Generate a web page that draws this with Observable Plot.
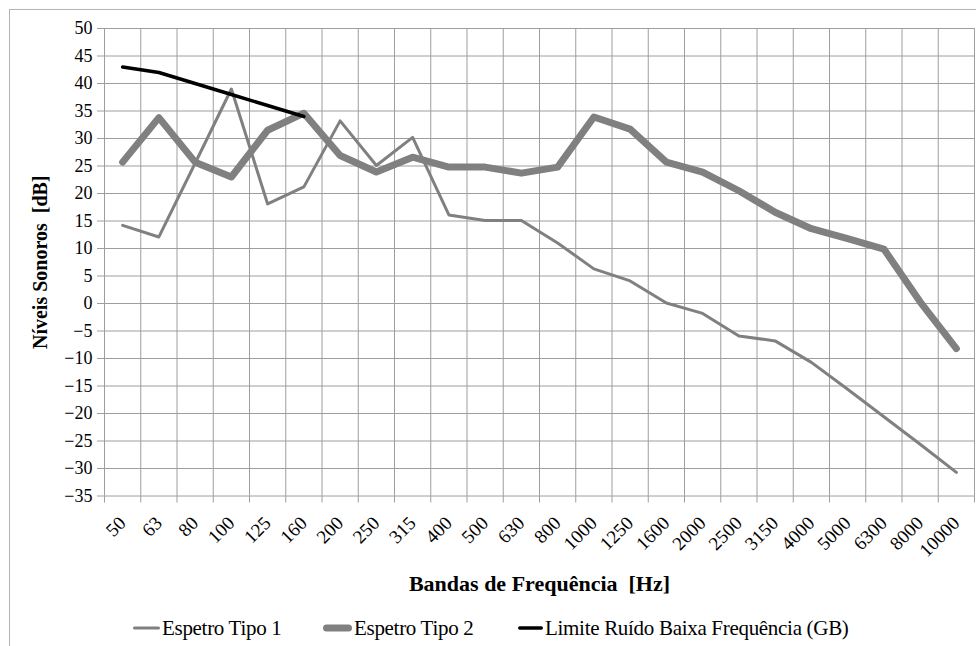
<!DOCTYPE html>
<html>
<head>
<meta charset="utf-8">
<script src="https://cdn.jsdelivr.net/npm/d3@7"></script>
<script src="https://cdn.jsdelivr.net/npm/@observablehq/plot@0.6"></script>
<style>
  html, body { margin: 0; padding: 0; background: #fff; width: 976px; height: 646px; overflow: hidden; }
  body { position: relative; font-family: "Liberation Serif", "Tinos", "DejaVu Serif", serif; }
  #frame { position: absolute; left: 9px; top: 9px; width: 990px; height: 660px; border: 1px solid #b4b4b4; box-sizing: border-box; }
  #chart { position: absolute; left: 0; top: 0; }
  #legend { position: absolute; left: 0; top: 616px; width: 976px; height: 24px; font-size: 21px; color: #000; }
  .item { position: absolute; top: 0; height: 24px; display: flex; align-items: center; white-space: nowrap; letter-spacing: -0.3px; }
  .item svg { display: block; margin-right: 2px; }
</style>
</head>
<body>
<div id="frame"></div>
<div id="chart"></div>
<div id="legend"></div>
<script>
// ---- data ----
const bands = ["50","63","80","100","125","160","200","250","315","400","500","630","800","1000","1250","1600","2000","2500","3150","4000","5000","6300","8000","10000"];
const tipo1 = [14.2,12.1,25.5,39.0,18.1,21.2,33.2,25.1,30.2,16.1,15.1,15.1,11.0,6.3,4.1,0.1,-1.8,-5.9,-6.8,-10.7,-15.6,-20.6,-25.6,-30.7];
const tipo2 = [25.7,33.8,25.7,23.0,31.5,34.6,26.9,23.9,26.6,24.8,24.8,23.7,24.8,33.9,31.7,25.7,23.9,20.5,16.6,13.6,11.8,9.9,0.3,-8.2];
const limite = [43,42,40,38,36,34];
const yTicks = d3.range(-35, 51, 5);
const seriesNames = ["Espetro Tipo 1", "Espetro Tipo 2", "Limite Ruído Baixa Frequência (GB)"];
const xTitle = "Bandas de Frequência  [Hz]";
const yTitle = "Níveis Sonoros  [dB]";

// ---- derived tables ----
const idx = bands.map((b, i) => i);
const boundaries = d3.range(bands.length + 1).map(i => i - 0.5);
const rows1 = tipo1.map((v, i) => ({i, v}));
const rows2 = tipo2.map((v, i) => ({i, v}));
const rows3 = limite.map((v, i) => ({i, v}));

const grid = "#9e9e9e";
const lineGray = "#808080";
const serif = "'Liberation Serif', 'Tinos', 'DejaVu Serif', serif";

const chart = Plot.plot({
  width: 976,
  height: 620,
  marginLeft: 104,
  marginRight: 2,
  marginTop: 28,
  marginBottom: 124.5,
  style: {fontFamily: serif, fontSize: "17px", color: "#000", background: "transparent"},
  x: {type: "linear", domain: [-0.5, bands.length - 0.5]},
  y: {domain: [-35, 50]},
  marks: [
    Plot.gridY(yTicks, {stroke: grid, strokeOpacity: 1, strokeWidth: 1}),
    Plot.gridX(boundaries, {stroke: grid, strokeOpacity: 1, strokeWidth: 1}),
    Plot.axisY(yTicks, {tickSize: 7, tickPadding: 5, stroke: grid, strokeOpacity: 1, label: null, fontSize: 18, fill: "#000", fontFamily: serif}),
    Plot.axisX(boundaries, {tickSize: 7, tickFormat: () => "", stroke: grid, strokeOpacity: 1, label: null}),
    Plot.axisX(idx, {tickSize: 0, tickPadding: 24, tickRotate: -45, tickFormat: i => bands[i], label: null, fontSize: 19, fill: "#000", fontFamily: serif}),
    Plot.line(rows1, {x: "i", y: "v", stroke: lineGray, strokeWidth: 3, strokeLinejoin: "round"}),
    Plot.line(rows2, {x: "i", y: "v", stroke: lineGray, strokeWidth: 7, strokeLinejoin: "round", strokeLinecap: "round"}),
    Plot.line(rows3, {x: "i", y: "v", stroke: "#000", strokeWidth: 3.5, strokeLinejoin: "round", strokeLinecap: "round"}),
    Plot.text([xTitle], {frameAnchor: "bottom", dy: 88, lineAnchor: "middle", textAnchor: "middle", fontWeight: "bold", fontSize: 22, fill: "#000", fontFamily: serif}),
    Plot.text([yTitle], {frameAnchor: "left", dx: -64, rotate: -90, textAnchor: "middle", lineAnchor: "middle", fontWeight: "bold", fontSize: 20, fill: "#000", fontFamily: serif})
  ]
});
document.getElementById("chart").appendChild(chart);

// ---- legend ----
const legend = document.getElementById("legend");
const legendSpec = [
  {name: seriesNames[0], left: 133, w: 27, sw: 3, color: lineGray},
  {name: seriesNames[1], left: 323, w: 29, sw: 7, color: lineGray},
  {name: seriesNames[2], left: 518, w: 25, sw: 3.5, color: "#000"}
];
for (const s of legendSpec) {
  const div = document.createElement("div");
  div.className = "item";
  div.style.left = s.left + "px";
  div.innerHTML = `<svg width="${s.w}" height="22"><line x1="${s.sw/2}" x2="${s.w - s.sw/2}" y1="11" y2="11" stroke="${s.color}" stroke-width="${s.sw}" stroke-linecap="round"/></svg><span>${s.name}</span>`;
  legend.appendChild(div);
}
</script>
</body>
</html>
